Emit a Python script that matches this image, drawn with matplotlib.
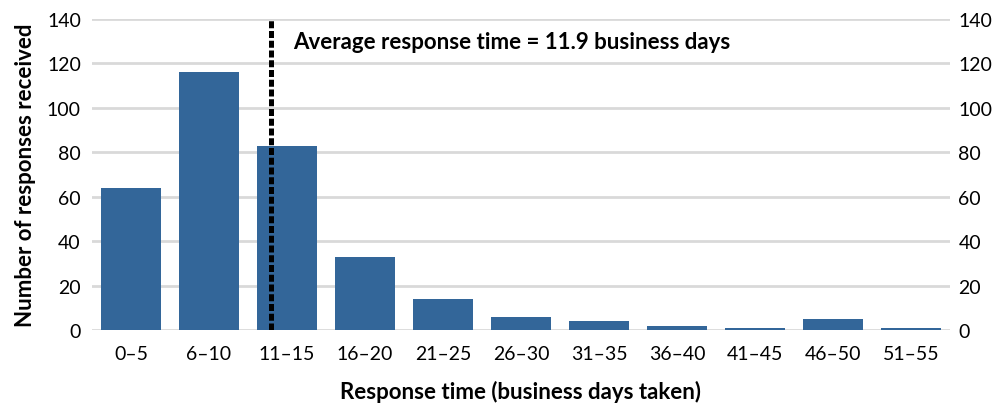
import matplotlib
matplotlib.use("Agg")
import matplotlib.pyplot as plt

categories = ["0–5", "6–10", "11–15", "16–20", "21–25", "26–30",
              "31–35", "36–40", "41–45", "46–50", "51–55"]
responses = [64, 116, 83, 33, 14, 6, 4, 2, 1, 5, 1]
avg_days = 11.9
avg_pos = 1.8  # position of the average on the category axis
yticks = [0, 20, 40, 60, 80, 100, 120, 140]

plt.rcParams["font.family"] = ["Lato", "DejaVu Sans"]

fig = plt.figure(figsize=(10.03, 4.10), dpi=100)
ax = fig.add_axes([92 / 1003, 79 / 410, 858 / 1003, 311 / 410])

x = range(len(categories))
ax.bar(x, responses, width=0.77, color="#336699", zorder=2)
ax.set_xlim(-0.5, len(categories) - 0.5)
ax.set_ylim(0, 140)
ax.set_yticks(yticks)
ax.yaxis.grid(True, color="#d9d9d9", lw=2, zorder=0)
ax.set_xticks(list(x))
ax.set_xticklabels(categories)
for s in ax.spines.values():
    s.set_visible(False)
ax.tick_params(length=0, labelsize=14, pad=8)
ax.tick_params(axis="x", pad=11)

ax.axvline(avg_pos, color="black", lw=3.6, ls=(0, (1.4, 0.55)), zorder=3)
ax.text(avg_pos + 0.28, 130, f"Average response time = {avg_days} business days",
        fontsize=16, fontweight="bold", va="center", ha="left")

ax.set_xlabel("Response time (business days taken)", fontsize=16,
              fontweight="bold", labelpad=13)
ax.set_ylabel("Number of responses received", fontsize=16,
              fontweight="bold", labelpad=8)

ax2 = ax.twinx()
ax2.set_ylim(0, 140)
ax2.set_yticks(yticks)
for s in ax2.spines.values():
    s.set_visible(False)
ax2.tick_params(length=0, labelsize=14, pad=6)

fig.savefig("out.png", dpi=100)
